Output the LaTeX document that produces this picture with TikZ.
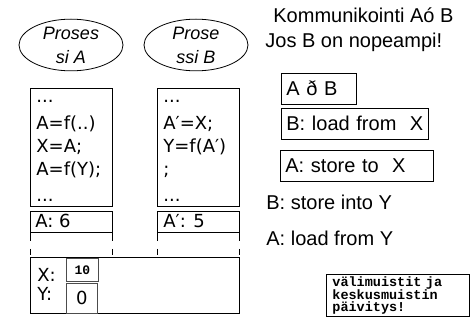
\documentclass[tikz,border=0pt]{standalone}
\usepackage{fontspec}
\setmainfont{Liberation Sans}
\newfontfamily\dvsans{DejaVu Sans}
\newfontfamily\lmono{Liberation Mono}
\usetikzlibrary{shapes.geometric}
\begin{document}
\begin{tikzpicture}[x=1pt,y=-1pt,line width=0.8pt,
  proc/.style={draw,ellipse,minimum width=104pt,minimum height=49pt,inner sep=0pt,align=center,font=\fontsize{18}{24}\selectfont\itshape},
  codebox/.style={draw,anchor=north west,inner sep=0pt},
  code/.style={anchor=base west,inner sep=0pt,font=\dvsans\fontsize{18}{22}\selectfont},
  rtext/.style={anchor=base west,inner sep=0pt,font=\fontsize{20}{24}\selectfont},
  stepbox/.style={draw,anchor=north west,minimum height=31pt,inner xsep=5pt,inner ysep=0pt,text height=14pt,text depth=0pt,align=left,font=\fontsize{20}{24}\selectfont},
  cell/.style={draw=black!70,anchor=north west,inner sep=0pt}
  ]
\useasboundingbox (0,0) rectangle (474,331);
% processes
\node[proc] (pA) at (71,45) {Proses\\si A};
\node[proc] (pB) at (196,45) {Prose\\ssi B};
% code boxes
\node[codebox,minimum width=82pt,minimum height=118pt] (cA) at (30,88) {};
\node[codebox,minimum width=82pt,minimum height=118pt] (cB) at (157,88) {};
\node[code] (a0) at (36,103) {...};
\node[code] (a1) at (36,130) {A=f(..)};
\node[code] (a2) at (36,153) {X=A;};
\node[code] (a3) at (36,176) {A=f(Y);};
\node[code] (a4) at (36,202) {...};
\node[code] (b0) at (163,103) {...};
\node[code] (b1) at (163,130) {A′=X;};
\node[code] (b2) at (163,153) {Y=f(A′)};
\node[code] (b3) at (163,176) {;};
\node[code] (b4) at (163,202) {...};
% registers
\node[codebox,minimum width=82pt,minimum height=21pt] (rA) at (30,211) {};
\node[codebox,minimum width=82pt,minimum height=21pt] (rB) at (157,211) {};
\node[code] (rAt) at (35,228) {A: 6};
\node[code] (rBt) at (163,228) {A′: 5};
\foreach \n in {rA,rB}{
  \draw (\n.south west) -- ++(0,8) (\n.south west) ++(0,16) -- ++(0,6);
  \draw (\n.south east) -- ++(0,8) (\n.south east) ++(0,16) -- ++(0,6);
}
% memory
\node[codebox,minimum width=209pt,minimum height=56pt] (mem) at (30,257) {};
\node[code] (lx) at (37,281) {X:};
\node[code] (ly) at (37,300) {Y:};
\node[cell,minimum width=32pt,minimum height=23pt,font=\lmono\bfseries\fontsize{13}{13}\selectfont] (cx) at (66,258) {10};
\draw[black!70] (cx.south west) ++(0,2) -- ++(32,0);
\node[cell,minimum width=31pt,minimum height=30pt,font=\dvsans\fontsize{18}{18}\selectfont] (cy) at (66,283) {0};
% right side
\node[rtext] (t1) at (273,23) {Kommunikointi Aó B};
\node[rtext] (t2) at (265,48) {Jos B on nopeampi!};
\node[stepbox,text width=65pt] (s1) at (281,73) {A ð B};
\node[stepbox,text width=137pt] (s2) at (281,108) {B: load from\ \ X};
\node[stepbox,text width=143pt] (s3) at (280,150) {A: store to\ \ X};
\node[rtext] (t3) at (266,210) {B: store into Y};
\node[rtext] (t4) at (266,246) {A: load from Y};
\node[draw,anchor=north west,minimum width=143pt,minimum height=42pt,inner xsep=6pt,inner ysep=0pt,text width=131pt,align=left,font=\lmono\bfseries\fontsize{13.5}{12}\selectfont] (note) at (326,274) {välimuistit ja\\keskusmuistin\\päivitys!};
\end{tikzpicture}
\end{document}
